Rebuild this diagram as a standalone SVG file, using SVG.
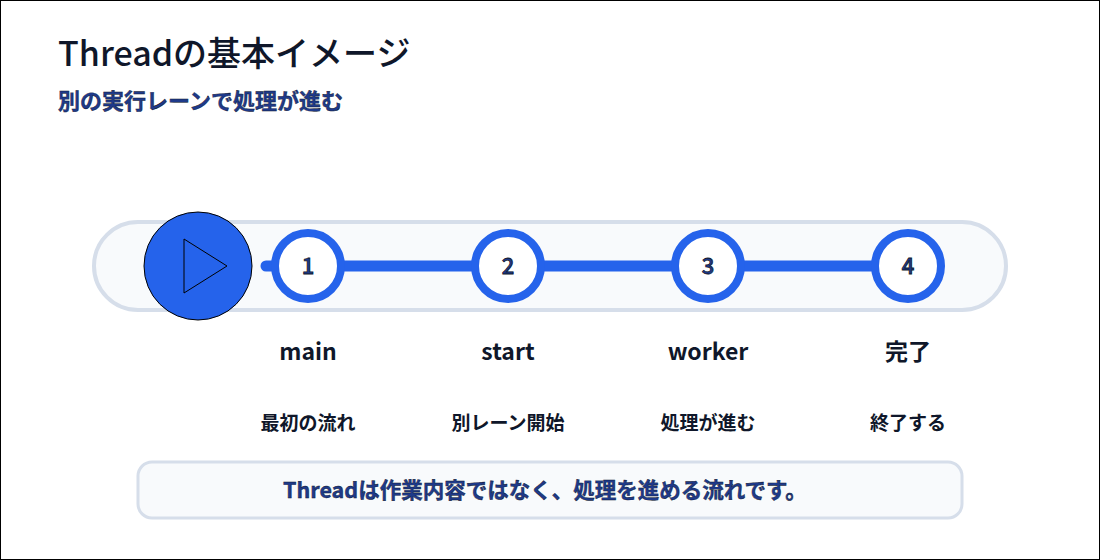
<svg xmlns="http://www.w3.org/2000/svg" width="1100" height="560" viewBox="0 0 1100 560">
<style>
text{font-family:"Noto Sans CJK JP","Noto Sans",sans-serif}
.step{fill:#fff;stroke:#2563eb;stroke-width:8}
.num{font-size:22px;font-weight:500;fill:#1e3a8a;stroke:#0f172a;stroke-width:0.8;text-anchor:middle}
.lbl{font-size:23px;font-weight:600;fill:#0f172a;text-anchor:middle}
.sub{font-size:19px;font-weight:700;fill:#0f172a;text-anchor:middle}
</style>
<rect x="0.5" y="0.5" width="1099" height="559" fill="#fff" stroke="#000"/>
<text x="58" y="66" font-size="34" font-weight="500" fill="#0f172a">Threadの基本イメージ</text>
<text x="58" y="109" font-size="22" font-weight="700" fill="#1e3a8a" stroke="#0f172a" stroke-width="0.4">別の実行レーンで処理が進む</text>
<rect x="94" y="222" width="912" height="88" rx="44" fill="#f8fafc" stroke="#d6deea" stroke-width="4"/>
<g id="connectors">
<line x1="266" y1="266" x2="908" y2="266" stroke="#2563eb" stroke-width="11" stroke-linecap="round"/>
</g>
<g id="play"><circle cx="198" cy="266" r="54" fill="#2563eb" stroke="#000" stroke-width="1"/><polygon points="184,239 227,266 184,293" fill="none" stroke="#000" stroke-width="1"/></g>
<g id="s1"><circle class="step" cx="308" cy="266" r="33"/><text class="num" x="308" y="274">1</text><text class="lbl" x="308" y="360">main</text><text class="sub" x="308" y="430">最初の流れ</text></g>
<g id="s2"><circle class="step" cx="508" cy="266" r="33"/><text class="num" x="508" y="274">2</text><text class="lbl" x="508" y="360">start</text><text class="sub" x="508" y="430">別レーン開始</text></g>
<g id="s3"><circle class="step" cx="708" cy="266" r="33"/><text class="num" x="708" y="274">3</text><text class="lbl" x="708" y="360">worker</text><text class="sub" x="708" y="430">処理が進む</text></g>
<g id="s4"><circle class="step" cx="908" cy="266" r="33"/><text class="num" x="908" y="274">4</text><text class="lbl" x="908" y="360">完了</text><text class="sub" x="908" y="430">終了する</text></g>
<g id="note"><rect x="138" y="462" width="824" height="56" rx="14" fill="#f8fafc" stroke="#d6deea" stroke-width="3"/><text x="545" y="498" font-size="21.5" font-weight="700" fill="#1e3a8a" stroke="#0f172a" stroke-width="0.4" text-anchor="middle">Threadは作業内容ではなく、処理を進める流れです。</text></g>
</svg>
